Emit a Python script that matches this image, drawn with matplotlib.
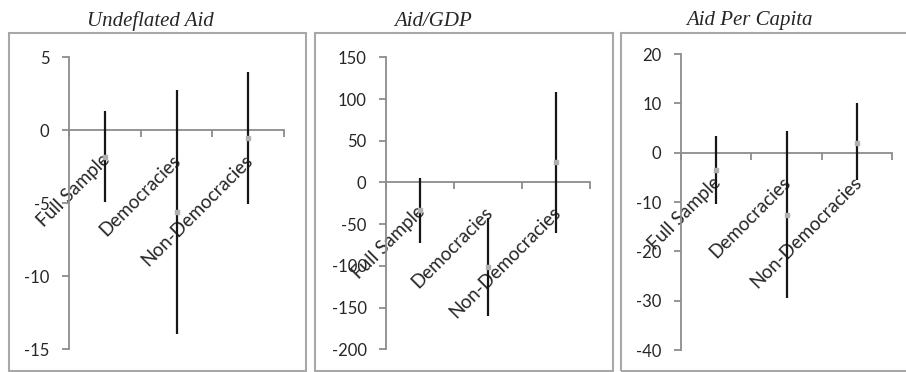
import matplotlib
matplotlib.use("Agg")
import matplotlib.pyplot as plt
from matplotlib.patches import Rectangle

# Categories and estimates with confidence bounds for each aid measure
categories = ["Full Sample", "Democracies", "Non-Democracies"]
titles = ["Undeflated Aid", "Aid/GDP", "Aid Per Capita"]

undeflated_est = [-1.8, -5.6, -0.55]
undeflated_lo = [-4.93, -13.98, -5.05]
undeflated_hi = [1.32, 2.73, 3.97]

gdp_est = [-33.6, -101.3, 24.0]
gdp_lo = [-72.8, -159.9, -60.3]
gdp_hi = [5.6, -42.8, 108.3]

percap_est = [-3.6, -12.6, 2.0]
percap_lo = [-10.5, -29.4, -5.6]
percap_hi = [3.3, 4.3, 10.1]

yticks_list = [
    [5, 0, -5, -10, -15],
    [150, 100, 50, 0, -50, -100, -150, -200],
    [20, 10, 0, -10, -20, -30, -40],
]

W, H = 906, 372
fig = plt.figure(figsize=(W / 100, H / 100), dpi=100)

sans = ["Lato", "DejaVu Sans"]
serif = ["Liberation Serif", "DejaVu Serif"]
axis_grey = "#8c8c8c"
text_dark = "#262626"

# pixel layouts: (axis left, axis right, axis top, axis bottom)
axes_px = [(69, 284, 57.3, 349.3), (386, 590, 57.3, 349.3), (681, 892, 54, 350)]
# panel frames: (left, right, top, bottom)
frames_px = [(9, 306, 33, 371), (315, 613, 33, 371), (621, 912, 33, 371)]
title_x = [150, 433, 749]

series = [
    (undeflated_est, undeflated_lo, undeflated_hi),
    (gdp_est, gdp_lo, gdp_hi),
    (percap_est, percap_lo, percap_hi),
]

for i in range(3):
    fl, fr, ft, fb = frames_px[i]
    fig.patches.append(Rectangle((fl / W, 1 - fb / H), (fr - fl) / W, (fb - ft) / H,
                                 transform=fig.transFigure, fill=False,
                                 edgecolor="#a8a8a8", linewidth=1.5, zorder=0))
    fig.text(title_x[i] / W, 1 - 21 / H, titles[i], ha="center", va="center",
             family=serif, style="italic", fontsize=15, color=text_dark)

    l, r, t, b = axes_px[i]
    ax = fig.add_axes([l / W, 1 - b / H, (r - l) / W, (b - t) / H])
    ax.patch.set_alpha(0)
    yt = yticks_list[i]
    ax.set_ylim(min(yt), max(yt))
    ax.set_xlim(0.5, 3.5)
    ax.set_yticks(yt)
    ax.set_yticklabels([str(v) for v in yt], family=sans, fontsize=12, color=text_dark)
    ax.set_xticks([0.5, 1.5, 2.5, 3.5])
    ax.set_xticklabels([])
    for s in ("top", "right"):
        ax.spines[s].set_visible(False)
    ax.spines["left"].set_color(axis_grey)
    ax.spines["left"].set_linewidth(1.3)
    ax.spines["bottom"].set_position(("data", 0))
    ax.spines["bottom"].set_color(axis_grey)
    ax.spines["bottom"].set_linewidth(1.3)
    ax.tick_params(axis="y", direction="out", length=5, width=1.3, color=axis_grey, pad=9)
    ax.tick_params(axis="x", direction="out", length=5, width=1.3, color=axis_grey)

    est, lo, hi = series[i]
    xs = [1, 2, 3]
    ax.vlines(xs, lo, hi, color="#161616", linewidth=1.6, zorder=3)
    ax.plot(xs, est, linestyle="none", marker="s", markersize=2.2,
            color="#b0b0b0", zorder=4)

    for x, name in zip(xs, categories):
        ax.annotate(name, xy=(x, 0), xytext=(-3, -15), textcoords="offset points",
                    rotation=45, rotation_mode="anchor", ha="right", va="top",
                    family=sans, fontsize=13.5, color=text_dark, zorder=2)

fig.savefig("out.png", dpi=100)
